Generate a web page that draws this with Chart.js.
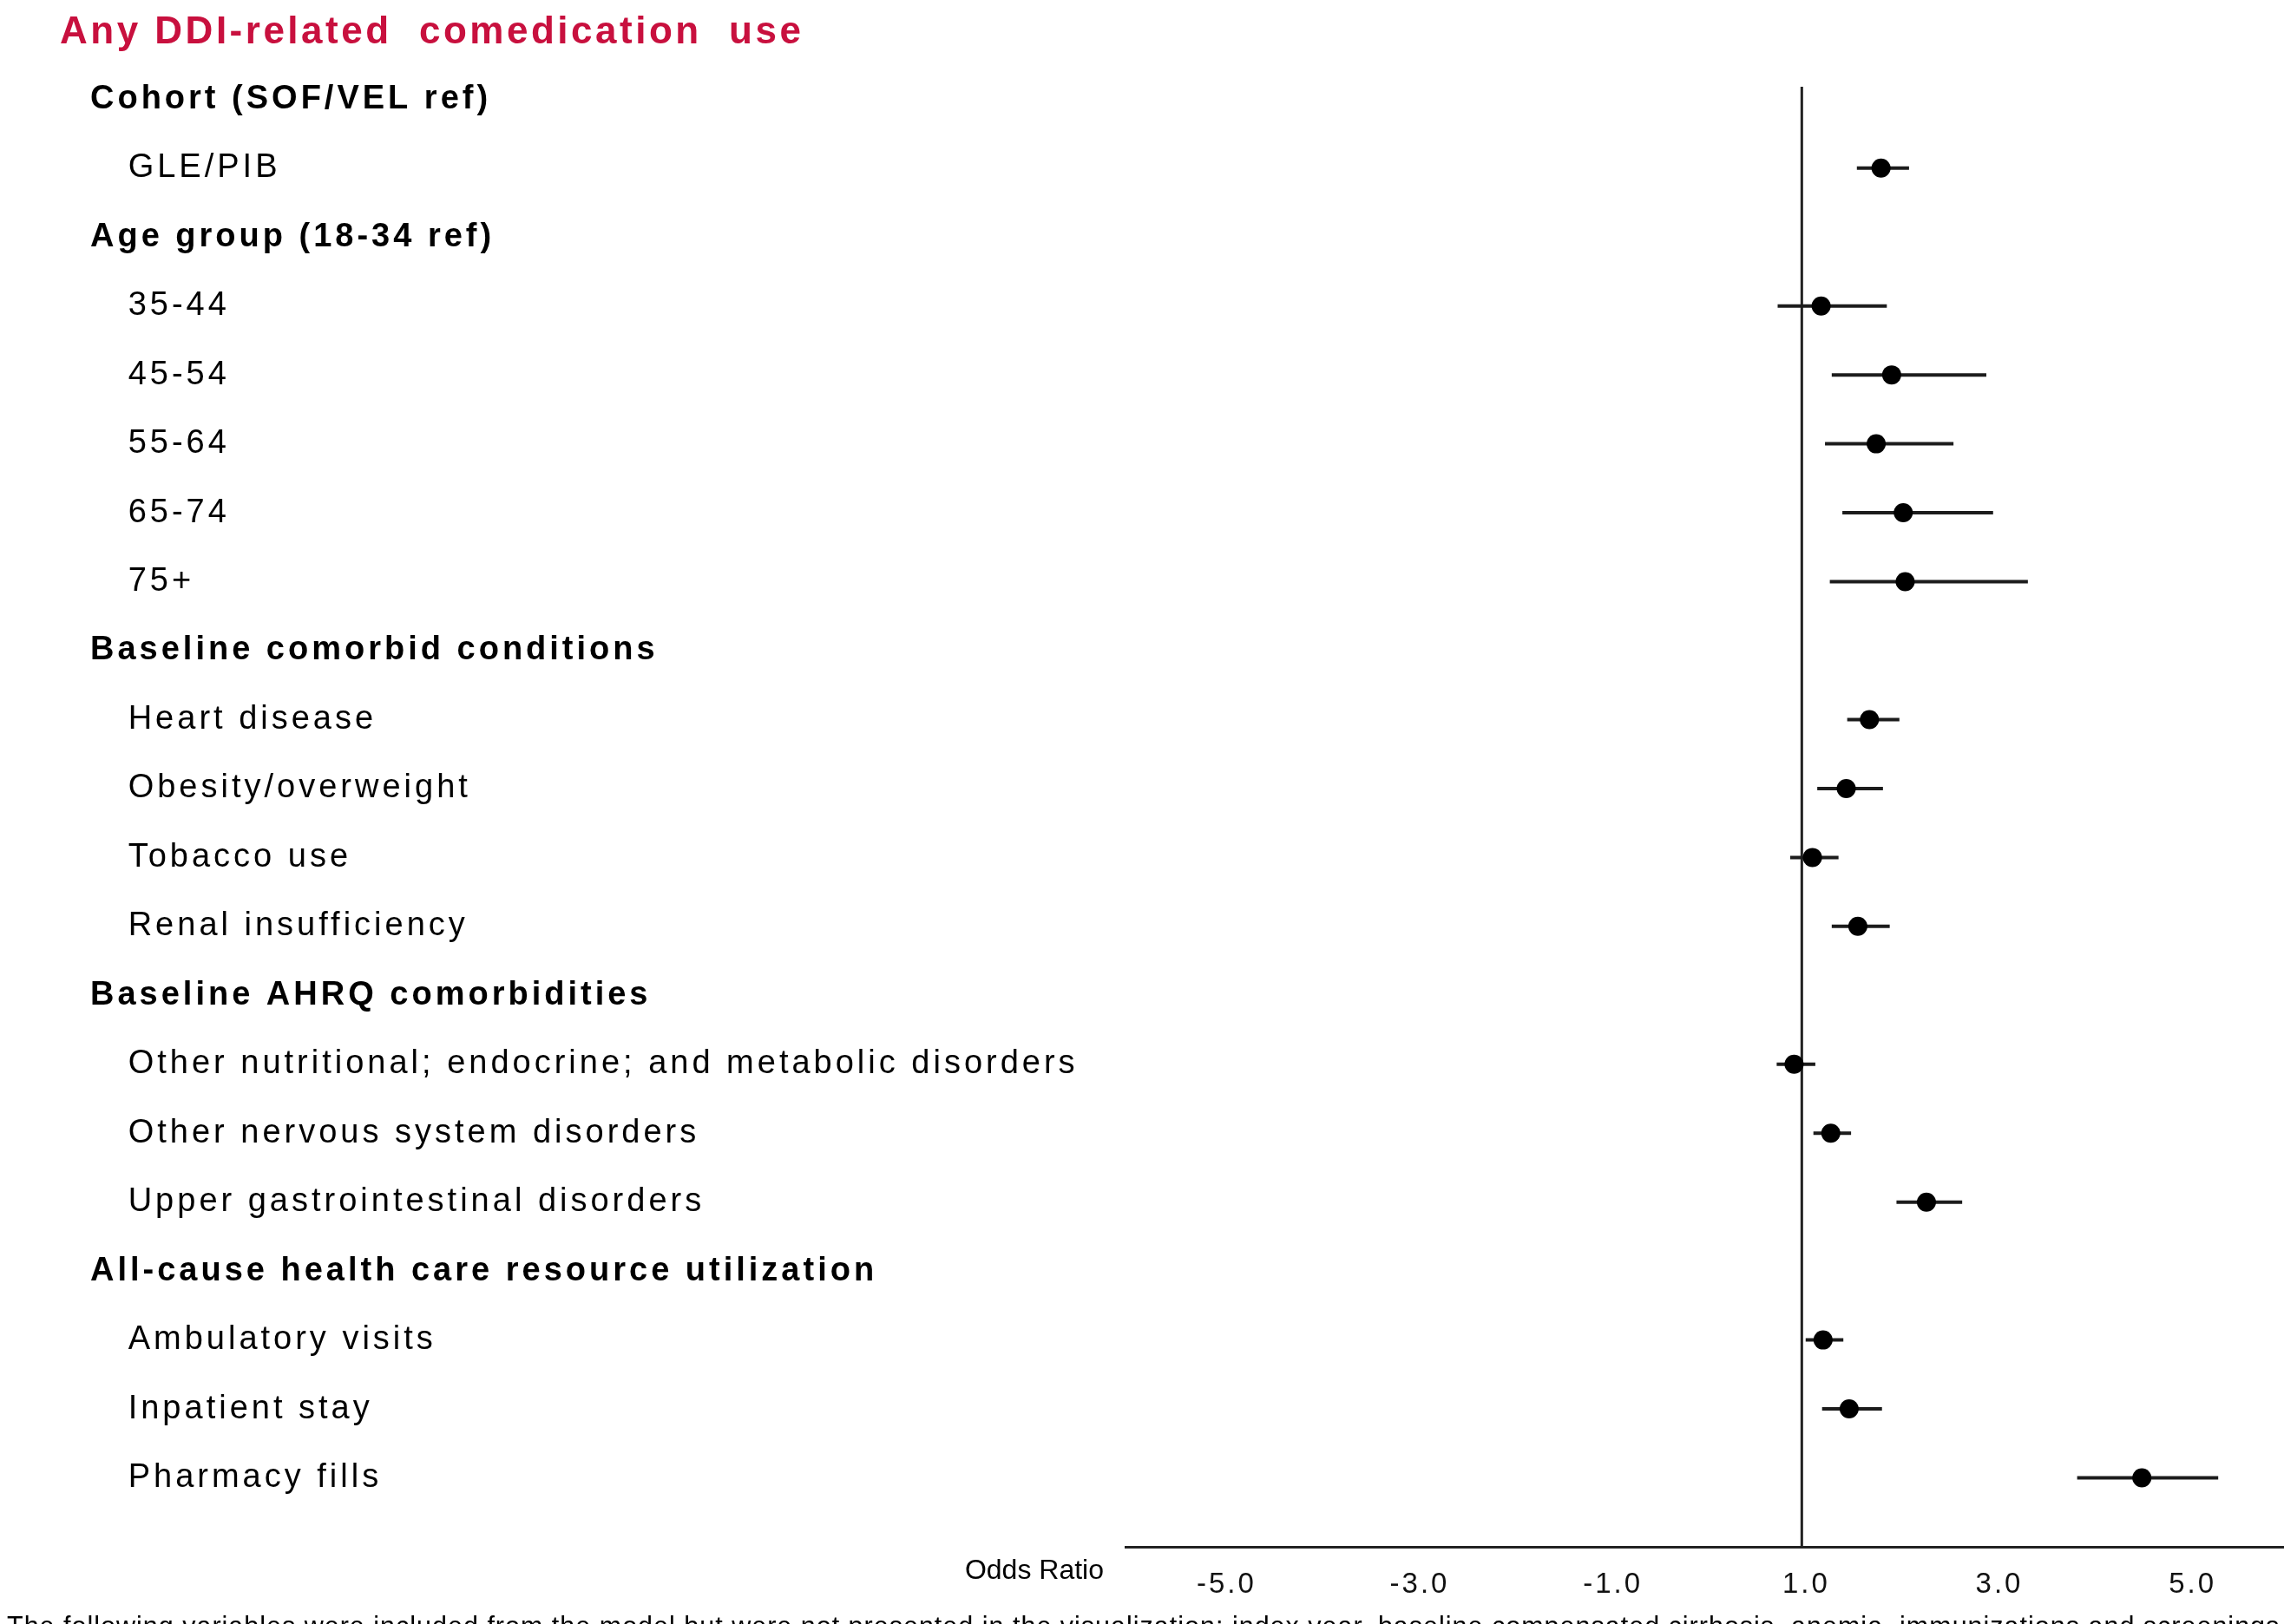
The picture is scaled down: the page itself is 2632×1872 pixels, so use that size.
<!DOCTYPE html>
<html>
<head>
<meta charset="utf-8">
<script src="https://cdn.jsdelivr.net/npm/chart.js@4.4.1/dist/chart.umd.min.js"></script>
<style>
  html, body { margin: 0; padding: 0; background: #fff; overflow: hidden; }
  #wrap { position: relative; width: 2644px; height: 1872px; }
  #forest { display: block; }
</style>
</head>
<body>
<div id="wrap"><canvas id="forest"></canvas></div>
<script>
const rowLabels = [
  'Cohort (SOF/VEL ref)',
  'GLE/PIB',
  'Age group (18-34 ref)',
  '35-44',
  '45-54',
  '55-64',
  '65-74',
  '75+',
  'Baseline comorbid conditions',
  'Heart disease',
  'Obesity/overweight',
  'Tobacco use',
  'Renal insufficiency',
  'Baseline AHRQ comorbidities',
  'Other nutritional; endocrine; and metabolic disorders',
  'Other nervous system disorders',
  'Upper gastrointestinal disorders',
  'All-cause health care resource utilization',
  'Ambulatory visits',
  'Inpatient stay',
  'Pharmacy fills'
]
const headerRows = [0, 2, 8, 13, 17]

const oddsRatio = [null, 1.82, null, 1.20, 1.93, 1.77, 2.05, 2.07, null, 1.70, 1.46, 1.11, 1.58, null, 0.92, 1.30, 2.29, null, 1.22, 1.49, 4.52]
const ciLow = [null, 1.57, null, 0.75, 1.31, 1.24, 1.42, 1.29, null, 1.47, 1.16, 0.88, 1.31, null, 0.74, 1.12, 1.98, null, 1.04, 1.21, 3.85]
const ciHigh = [null, 2.11, null, 1.88, 2.91, 2.57, 2.98, 3.34, null, 2.01, 1.84, 1.38, 1.91, null, 1.14, 1.51, 2.66, null, 1.43, 1.83, 5.31]

const xTicks = [-5, -3, -1, 1, 3, 5]
const refValue = 1

const titleText = 'Any DDI-related  comedication  use'
const axisName = 'Odds Ratio'
const footnote = 'The following variables were included from the model but were not presented in the visualization: index year, baseline compensated cirrhosis, anemia, immunizations and screenings'

const FONT = '"Liberation Sans", Arial, sans-serif'
const yMin = -0.18
const yMax = 21.0

function build () {
  const points = []
  const whiskers = []
  rowLabels.forEach((_, i) => {
    if (oddsRatio[i] === null) return
    points.push({ x: oddsRatio[i], y: i })
    whiskers.push({ x: ciLow[i], y: i }, { x: ciHigh[i], y: i }, { x: ciHigh[i], y: null })
  })

  // row labels get a wider tracking than the x tick labels (drawn later, z: 1)
  const textPlugin = {
    id: 'texts',
    beforeDraw (chart) {
      chart.ctx.letterSpacing = '4px'
    },
    afterDatasetsDraw (chart) {
      chart.ctx.letterSpacing = '3px'
    },
    afterDraw (chart) {
      const ctx = chart.ctx
      ctx.save()
      ctx.textBaseline = 'alphabetic'
      ctx.letterSpacing = '3.5px'
      ctx.fillStyle = '#c8103e'
      ctx.font = 'bold 44px ' + FONT
      ctx.textAlign = 'left'
      ctx.fillText(titleText, 69, 50)

      ctx.letterSpacing = '0px'
      ctx.fillStyle = '#000'
      ctx.font = '32px ' + FONT
      ctx.textAlign = 'right'
      ctx.fillText(axisName, 1272, 1820)

      ctx.letterSpacing = '1px'
      ctx.font = '30.5px ' + FONT
      ctx.textAlign = 'left'
      ctx.fillText(footnote, 8, 1885)
      ctx.restore()
      ctx.letterSpacing = '0px'
    }
  }

  new Chart(document.getElementById('forest').getContext('2d'), {
    type: 'scatter',
    data: {
      datasets: [
        {
          data: points,
          backgroundColor: '#000',
          borderWidth: 0,
          pointRadius: 11,
          pointHoverRadius: 11,
          order: 0
        },
        {
          type: 'line',
          data: whiskers,
          borderColor: '#1c1c1c',
          borderWidth: 4,
          pointRadius: 0,
          spanGaps: false,
          fill: false,
          order: 1
        },
        {
          type: 'line',
          data: [{ x: refValue, y: yMin }, { x: refValue, y: yMax }],
          borderColor: '#222',
          borderWidth: 3,
          pointRadius: 0,
          fill: false,
          order: 2
        }
      ]
    },
    options: {
      responsive: true,
      maintainAspectRatio: false,
      animation: false,
      layout: { padding: { left: 104, top: 100, right: 0, bottom: 0 } },
      plugins: {
        legend: { display: false },
        tooltip: { enabled: false },
        title: { display: false }
      },
      scales: {
        x: {
          type: 'linear',
          min: -6,
          max: 6,
          grid: { display: false, drawTicks: false },
          border: { display: true, color: '#222', width: 3 },
          afterBuildTicks: (axis) => { axis.ticks = xTicks.map(v => ({ value: v })) },
          afterFit: (axis) => {
            axis.height = 89
            axis.paddingLeft = 0
            axis.paddingRight = 0
          },
          ticks: {
            z: 1,
            autoSkip: false,
            maxRotation: 0,
            padding: 24,
            labelOffset: 5,
            color: '#111',
            font: { family: FONT, size: 33 },
            callback: (v) => Number(v).toFixed(1)
          }
        },
        y: {
          type: 'linear',
          reverse: true,
          min: yMin,
          max: yMax,
          grid: { display: false, drawTicks: false },
          border: { display: false },
          afterBuildTicks: (axis) => { axis.ticks = rowLabels.map((_, i) => ({ value: i })) },
          afterFit: (axis) => {
            axis.width = 1297 - 104
            axis.paddingTop = 0
            axis.paddingBottom = 0
          },
          ticks: {
            autoSkip: false,
            crossAlign: 'far',
            padding: 0,
            color: '#000',
            font: (c) => ({
              family: FONT,
              size: 38,
              weight: headerRows.includes(c.index) ? 'bold' : 'normal'
            }),
            callback: (v, i) => headerRows.includes(i) ? rowLabels[i] : '   ' + rowLabels[i]
          }
        }
      }
    },
    plugins: [textPlugin]
  })
}

build()
</script>
</body>
</html>
